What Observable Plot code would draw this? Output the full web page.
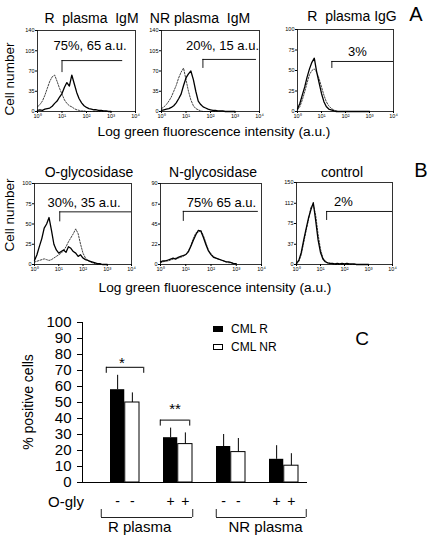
<!DOCTYPE html>
<html><head><meta charset="utf-8">
<script src="https://cdn.jsdelivr.net/npm/d3@7"></script>
<script src="https://cdn.jsdelivr.net/npm/@observablehq/plot@0.6"></script>
<style>
body{margin:0;background:#fff;}
#fig{position:relative;width:430px;height:538px;font-family:"Liberation Sans",Arial,Helvetica,sans-serif;color:#000;overflow:hidden;background:#fff}
.lab{position:absolute;white-space:pre;transform:translate(-50%,-50%);line-height:1}
.rot{transform:translate(-50%,-50%) rotate(-90deg)}
</style></head><body><div id="fig"></div>
<script>
// ---------- DATA ----------
// histogram channels (log green fluorescence, a.u.)
const fluorescence = [1,1.26,1.58,2,2.51,3.16,3.98,5.01,6.31,7.94,10,12.6,15.8,20,25.1,31.6,39.8,50.1,63.1,79.4,100,126,158,200,251,316,398,501,631,794,1000];
const xTicks = [1,10,100,1000,10000];
// A: R plasma IgM
const rIgM_test = [2,3,2,4,5,6,9,14,18,25,31,42,50,44,63,48,33,22,15,10,7,5,4,3,3,2,2,1,1,0,0];
const rIgM_ctrl = [8,12,18,28,40,52,60,63,52,40,30,20,14,10,8,5,3,2,1,1,0,0,0,0,0,0,0,0,0,0,0];
// A: NR plasma IgM
const nrIgM_test = [2,3,4,5,7,10,15,22,30,45,58,65,70,55,35,18,12,8,6,4,3,2,2,1,1,1,0,0,0,0,0];
const nrIgM_ctrl = [5,8,12,18,25,35,45,58,68,75,55,35,20,10,5,3,1,0,0,0,0,0,0,0,0,0,0,0,0,0,0];
// A: R plasma IgG
const rIgG_test = [3,10,20,30,42,52,60,65,48,35,22,12,6,3,2,1,0,0,0,0,0,0,0,0,0,0,0,0,0,0,0];
const rIgG_ctrl = [2,6,14,24,35,45,50,52,48,40,30,20,12,7,4,2,1,0,0,0,0,0,0,0,0,0,0,0,0,0,0];
// B: O-glycosidase
const oGlyco_test = [5,12,22,32,45,50,58,42,25,18,14,16,18,15,22,20,16,14,10,12,8,6,5,4,3,2,1,1,0,0,0];
const oGlyco_ctrl = [3,4,5,6,7,6,5,6,8,10,12,14,17,22,28,33,38,44,38,25,14,8,5,3,2,1,0,0,0,0,0];
// B: N-glycosidase
const nGlyco_test = [3,4,4,5,6,7,6,8,9,10,11,14,20,27,33,38,37,30,22,15,11,8,7,6,5,4,3,3,2,1,1];
const nGlyco_ctrl = [2,3,4,4,5,6,7,7,8,9,11,15,21,29,35,36,38,32,24,16,12,9,7,6,5,4,3,2,2,1,1];
// B: control
const control_test = [2,8,22,45,65,85,100,113,80,45,22,10,5,3,2,2,1,2,1,2,1,2,1,1,1,0,0,0,0,0,0];
const control_ctrl = [1,6,18,40,62,82,105,110,90,55,28,12,6,3,2,1,0,0,0,0,0,0,0,0,0,0,0,0,0,0,0];
// y tick labels of the histograms
const yTicksA1 = [0,35,70,105,140];
const yTicksA2 = [0,35,70,105,140];
const yTicksA3 = [0,25,50,75,100];
const yTicksB1 = [0,25,50,75,100];
const yTicksB2 = [0,22,45,67,90];
const yTicksB3 = [0,37,75,112,150];
// marker gates
const gateStart = [10,49,27,11,8,18];
const gateEnd = [3000,7500,10000,10000,7500,10000];
const gateLabel = ["75%, 65 a.u.","20%, 15 a.u.","3%","30%, 35 a.u.","75% 65 a.u.","2%"];
const panelTitles = ["R  plasma  IgM","NR plasma  IgM","R  plasma IgG","O-glycosidase","N-glycosidase","control"];

// C: % positive cells
const conditions = ["R-","R+","NR-","NR+"];
const plasmaGroup = ["R plasma","R plasma","NR plasma","NR plasma"];
const oGly = ["-","+","-","+"];
const cmlR = [58,28,22.5,14.5];
const cmlR_sd = [9,6,7.5,8.5];
const cmlNR = [50,24,19,10.5];
const cmlNR_sd = [6,7,8.5,7.5];
const significance = ["*","**"]; // over conditions[0], conditions[1]
const yTicksC = [0,10,20,30,40,50,60,70,80,90,100];
const seriesNames = ["CML R","CML NR"];

// ---------- DRAW ----------
const FONT = '"Liberation Sans", Arial, Helvetica, sans-serif';
const fig = document.getElementById("fig");
const sup = ["\u2070","\u00b9","\u00b2","\u00b3","\u2074"];
function place(el, left, top){ el.style.position="absolute"; el.style.left=left+"px"; el.style.top=top+"px"; fig.appendChild(el); }
function label(text, x, y, size, extra){
  const d = document.createElement("div");
  d.className = "lab" + (extra ? " " + extra : "");
  d.textContent = text; d.style.fontSize = size + "px";
  d.style.left = x + "px"; d.style.top = y + "px";
  fig.appendChild(d);
}
const rowsOf = counts => fluorescence.map((f,i) => ({f, n: counts[i]}));

const panels = [
  {left:37, top:30, w:98, h:81, ymax:140, yTicks:yTicksA1, test:rIgM_test, ctrl:rIgM_ctrl, gy:88, tl:12, dx:3.5, dy:15, tx:91.5, ty:18},
  {left:161, top:30, w:98, h:81, ymax:140, yTicks:yTicksA2, test:nrIgM_test, ctrl:nrIgM_ctrl, gy:90, tl:9, dx:12, dy:15, tx:200, ty:18},
  {left:297, top:29, w:96, h:82, ymax:100, yTicks:yTicksA3, test:rIgG_test, ctrl:rIgG_ctrl, gy:61, tl:7, dx:12, dy:22, tx:352, ty:16},
  {left:34, top:183, w:97, h:81, ymax:100, yTicks:yTicksB1, test:oGlyco_test, ctrl:oGlyco_ctrl, gy:65, tl:10, dx:1, dy:19, tx:89, ty:172},
  {left:160, top:183, w:101, h:81, ymax:90, yTicks:yTicksB2, test:nGlyco_test, ctrl:nGlyco_ctrl, gy:59, tl:10, dx:10.5, dy:19, tx:213, ty:172},
  {left:296, top:182, w:96, h:82, ymax:150, yTicks:yTicksB3, test:control_test, ctrl:control_ctrl, gy:97, tl:9, dx:-1, dy:19, tx:342, ty:172}
];

panels.forEach((p, i) => {
  const mL=20, mR=6, mT=6, mB=14;
  const svg = Plot.plot({
    width: p.w+mL+mR, height: p.h+mT+mB,
    marginLeft:mL, marginRight:mR, marginTop:mT, marginBottom:mB,
    x:{type:"log", domain:[1,10000], label:null},
    y:{domain:[0,p.ymax], label:null},
    style:{fontFamily:FONT, fontSize:"5.5px", background:"transparent", color:"#000"},
    marks:[
      Plot.axisX({ticks:xTicks, tickFormat:d => "10" + sup[Math.round(Math.log10(d))], tickSize:2, tickPadding:0.5, fontSize:5.5, label:null}),
      Plot.axisY({ticks:p.yTicks, tickFormat:d => String(d), tickSize:2, tickPadding:1, fontSize:5.5, label:null}),
      Plot.line(rowsOf(p.ctrl), {x:"f", y:"n", stroke:"#444", strokeWidth:1, strokeDasharray:"1.6,1.4"}),
      Plot.line(rowsOf(p.test), {x:"f", y:"n", stroke:"#000", strokeWidth:1.3}),
      Plot.ruleY([{y:p.gy, x1:gateStart[i], x2:gateEnd[i]}], {y:"y", x1:"x1", x2:"x2", stroke:"#000", strokeWidth:0.9}),
      Plot.ruleX([{x:gateStart[i], y:p.gy}], {x:"x", y1:"y", y2:"y", insetBottom:-p.tl, stroke:"#000", strokeWidth:0.9}),
      Plot.text([gateLabel[i]], {text:d => d, frameAnchor:"top", lineAnchor:"middle", dx:p.dx, dy:p.dy, fontSize:13, fill:"#000"}),
      Plot.frame({stroke:"#000", strokeWidth:0.8})
    ]
  });
  place(svg, p.left-mL, p.top-mT);
  label(panelTitles[i], p.tx, p.ty, 14);
});

// panel-wide labels
label("Cell number", 10, 79, 13.5, "rot");
label("Cell number", 10, 215, 13.5, "rot");
label("Log green fluorescence intensity (a.u.)", 214, 132, 13.7);
label("Log green fluorescence intensity (a.u.)", 215, 288, 13.7);
label("A", 416, 14, 20);
label("B", 421, 170, 20);
label("C", 362, 338, 19);

// ---------- Panel C ----------
const rows = conditions.map((c,i) => ({c, plasma:plasmaGroup[i], sign:oGly[i], r:cmlR[i], rsd:cmlR_sd[i], nr:cmlNR[i], nrsd:cmlNR_sd[i]}));
const cL=82, cR=13, cT=22, cB=56, cW=320, cH=238;
const xOpts = {paddingInner:0.445, paddingOuter:0.34, align:0.77};
const band = d3.scaleBand().domain(conditions).range([cL, cW-cR]).paddingInner(xOpts.paddingInner).paddingOuter(xOpts.paddingOuter).align(xOpts.align);
const bw = band.bandwidth(), step = band.step();

const sigRows = significance.map((s,i) => ({c:conditions[i], s, y:Math.max(cmlR[i]+cmlR_sd[i], cmlNR[i]+cmlNR_sd[i]) + 5}));
const sigInset = [[-4,-4],[-3,3]];
const sigDy = [-4.5,-11];
const groupNames = [...new Set(plasmaGroup)];
const groups = groupNames.map(g => {
  const idx = plasmaGroup.map((p,i) => p===g ? i : -1).filter(i => i>=0);
  return {name:g, from:conditions[idx[0]], to:conditions[idx[idx.length-1]], base:0};
});
const grpInset = [[-9,0],[0,-7.5]];
const grpDx = [-12, 8];

const cMarks = [
  Plot.barY(rows, {x:"c", y:"r", fill:"#000", insetRight:bw/2}),
  Plot.barY(rows, {x:"c", y:"nr", fill:"#fff", stroke:"#000", strokeWidth:1, insetLeft:bw/2}),
  Plot.ruleX(rows, {x:"c", y1:"r", y2:d => d.r + d.rsd, dx:-bw/4, stroke:"#000", strokeWidth:1}),
  Plot.ruleX(rows, {x:"c", y1:"nr", y2:d => d.nr + d.nrsd, dx:bw/4, stroke:"#000", strokeWidth:1}),
  Plot.ruleY([0], {stroke:"#000", strokeWidth:1}),
  Plot.frame({anchor:"left", stroke:"#000", strokeWidth:1}),
  Plot.axisY({ticks:yTicksC, tickSize:5, tickPadding:6, fontSize:15, label:null, tickFormat:d => String(d)}),
  Plot.text(rows, {x:"c", text:"sign", frameAnchor:"bottom", lineAnchor:"middle", dy:19, dx:-bw/4, fontSize:14}),
  Plot.text(rows, {x:"c", text:"sign", frameAnchor:"bottom", lineAnchor:"middle", dy:19, dx:bw/4, fontSize:14})
];
sigRows.forEach((s,i) => {
  const [il, ir] = sigInset[i];
  cMarks.push(
    Plot.ruleY([s], {x1:"c", x2:"c", y:"y", insetLeft:il, insetRight:ir, stroke:"#000", strokeWidth:1}),
    Plot.ruleX([s], {x:"c", y1:"y", y2:"y", insetBottom:-6, dx:-(bw/2 - il), stroke:"#000", strokeWidth:1}),
    Plot.ruleX([s], {x:"c", y1:"y", y2:"y", insetBottom:-6, dx:(bw/2 - ir), stroke:"#000", strokeWidth:1}),
    Plot.text([s], {x:"c", y:"y", text:"s", dy:sigDy[i], dx:-3, fontSize:15})
  );
});
groups.forEach((g,i) => {
  const [il, ir] = grpInset[i];
  cMarks.push(
    Plot.ruleY([g], {x1:"from", x2:"to", y:"base", insetLeft:il, insetRight:ir, dy:35, stroke:"#222", strokeWidth:1}),
    Plot.ruleX([g], {x:"from", y1:"base", y2:"base", insetTop:-8, dy:35, dx:-(bw/2 - il), stroke:"#222", strokeWidth:1}),
    Plot.ruleX([g], {x:"to", y1:"base", y2:"base", insetTop:-8, dy:35, dx:(bw/2 - ir), stroke:"#222", strokeWidth:1}),
    Plot.text([g], {x:"from", text:"name", frameAnchor:"bottom", lineAnchor:"middle", dy:45, dx:step/2 + grpDx[i], fontSize:15})
  );
});

const cSvg = Plot.plot({
  width:cW, height:cH, marginLeft:cL, marginRight:cR, marginTop:cT, marginBottom:cB,
  x:{type:"band", domain:conditions, ...xOpts, axis:null, label:null},
  y:{domain:[0,100], label:null},
  style:{fontFamily:FONT, fontSize:"15px", background:"transparent", color:"#000"},
  marks:cMarks
});
place(cSvg, 0, 300);

label("% positive cells", 28, 402, 14, "rot");
label("O-gly", 66, 501, 15);

// legend
const legendFill = ["#000","#fff"];
seriesNames.forEach((s,i) => {
  const sw = document.createElement("div");
  sw.style.cssText = `width:10px;height:6px;box-sizing:border-box;border:1px solid #000;background:${legendFill[i]}`;
  place(sw, 213, 326 + i*18);
  const t = document.createElement("div");
  t.textContent = s;
  t.style.cssText = "font-size:12px;line-height:1;white-space:nowrap";
  place(t, 231, 323 + i*18);
});
</script></body></html>
